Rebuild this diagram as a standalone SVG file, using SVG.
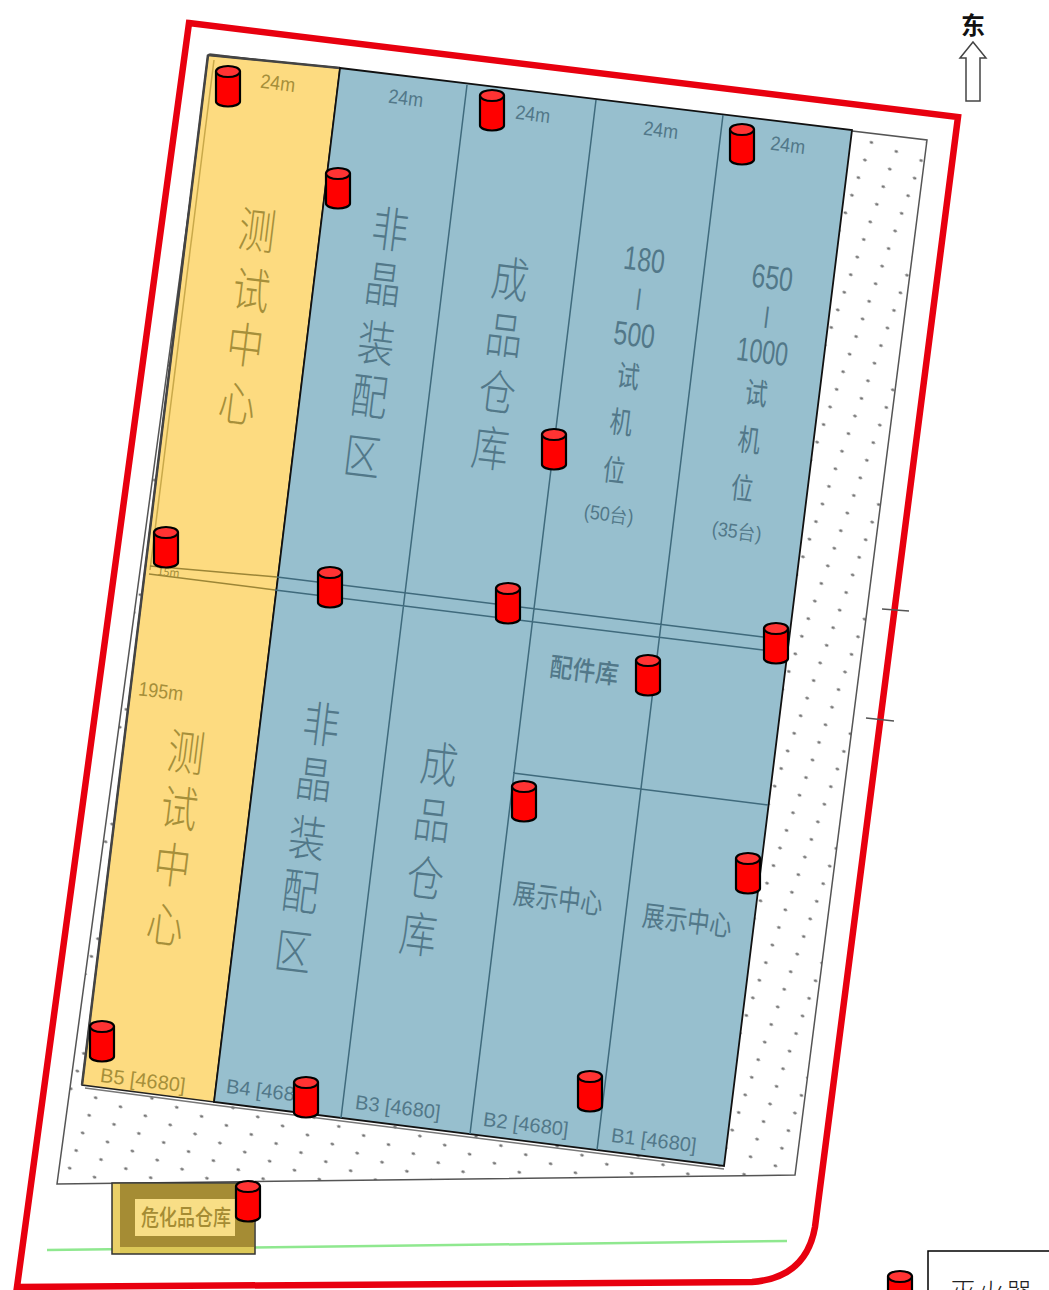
<svg xmlns="http://www.w3.org/2000/svg" width="1049" height="1290" viewBox="0 0 1049 1290">
<style>
text{font-family:"Noto Sans CJK SC","Liberation Sans",sans-serif;text-anchor:middle}
.y{fill:#a68f3a}.b{fill:#527889}
.big{font-size:42px;font-weight:300}
.mid{font-size:30px;font-weight:400}
.num{font-size:29px;font-family:"Liberation Sans",sans-serif;font-weight:400}
.sm{font-size:20px;font-family:"Liberation Sans",sans-serif}
.lab{font-size:25px}
.in{fill:none;stroke:#3f6a7c;stroke-width:1.5}
.iny{fill:none;stroke:#9c8636;stroke-width:1.5}
</style>
<defs>
<pattern id="dots" patternUnits="userSpaceOnUse" width="100" height="100" patternTransform="matrix(.2485 .0906 -.065 .176 80 1102)">
<circle cx="50" cy="50" r="7" fill="#707070"/>
</pattern>
<g id="cyl">
<path d="M-12 7.500V36.500C-12 39.500 -6 41.500 0 41.500S12 39.500 12 36.500V7.500Z" fill="#f00" stroke="#000" stroke-width="2.200"/>
<ellipse cx="0" cy="6.500" rx="12" ry="5.500" fill="#ff3333" stroke="#000" stroke-width="2.200"/>
</g>
</defs>
<rect width="1049" height="1290" fill="#fff"/>
<g id="boundary"><path d="M189 23L958 117L815 1227Q806 1278 752 1282L17 1287Z" fill="#fff" stroke="#e8000f" stroke-width="6.500" stroke-linejoin="miter"/></g>
<g id="site"><path d="M210 54L927 140L795 1175L57 1184Z" fill="#fff"/><path d="M210 54L927 140L795 1175L57 1184Z" fill="url(#dots)" stroke="#555" stroke-width="1.500"/></g>
<g id="green-line"><path d="M47 1250L787 1241" stroke="#8fe88f" stroke-width="2.500" fill="none"/></g>
<g id="ticks"><path d="M882 609L909 611M866 718L894 721" stroke="#555" stroke-width="1.500" fill="none"/></g>
<g id="zone-test"><path d="M85 1088L214 1105L724 1169" fill="none" stroke="#777" stroke-width="1.500"/><path d="M208 55L340 68L214 1102L82 1085Z" fill="#fddb80" stroke="#222" stroke-width="1.500"/><path d="M208 55L340 68M208 55L82 1085" fill="none" stroke="#444" stroke-width="2.500"/><path d="M214 60L150 570" stroke="#c9a94a" stroke-width="1.500" fill="none"/></g>
<g id="zone-main"><path d="M340 68L852 130L724 1166L214 1102Z" fill="#97bfce" stroke="#111" stroke-width="1.800"/></g>
<g id="connectors">
<path class="in" d="M467 85L341 1118M596 100L470 1134M723 115L597 1150M513 773L768 805M277 577L763 637M275 590L763 650"/>
<path class="iny" d="M150 566L277 577M149 574L275 590"/>
</g>
<g id="wh"><rect x="112" y="1183" width="143" height="71" fill="#dcc858" stroke="#333" stroke-width="1.500"/><rect x="113" y="1184" width="7" height="69" fill="#e9cf68"/><rect x="120" y="1184" width="134" height="63" fill="#a58c34"/><rect x="135" y="1199" width="100" height="37" fill="#f8de86"/><text transform="translate(186 1225) scale(1 1.2)" font-size="18" font-weight="500" fill="#a58c34">危化品仓库</text></g>
<g id="text-yellow" class="y">
<text class="big" transform="translate(255 248) rotate(7) scale(.88 1.15)">测</text>
<text class="big" transform="translate(249 308) rotate(7) scale(.88 1.15)">试</text>
<text class="big" transform="translate(243 363) rotate(7) scale(.88 1.15)">中</text>
<text class="big" transform="translate(235 421) rotate(7) scale(.88 1.15)">心</text>
<text class="big" transform="translate(184 770) rotate(7) scale(.88 1.15)">测</text>
<text class="big" transform="translate(177 826) rotate(7) scale(.88 1.15)">试</text>
<text class="big" transform="translate(170 883) rotate(7) scale(.88 1.15)">中</text>
<text class="big" transform="translate(163 942) rotate(7) scale(.88 1.15)">心</text>
<text class="sm" transform="translate(277 90) rotate(7) scale(.9 1)">24m</text>
<text class="sm" transform="translate(160 698) rotate(7) scale(.9 1)">195m</text>
<text class="sm" transform="translate(142 1087) rotate(7)">B5 [4680]</text>
<text transform="translate(168 576) rotate(7)" font-size="11">15m</text>
</g>
<g id="text-blue" class="b">
<text class="big" transform="translate(388 247) rotate(7) scale(.88 1.15)">非</text>
<text class="big" transform="translate(381 302) rotate(7) scale(.88 1.15)">晶</text>
<text class="big" transform="translate(374 361) rotate(7) scale(.88 1.15)">装</text>
<text class="big" transform="translate(367 414) rotate(7) scale(.88 1.15)">配</text>
<text class="big" transform="translate(360 474) rotate(7) scale(.88 1.15)">区</text>
<text class="big" transform="translate(508 297) rotate(7) scale(.88 1.15)">成</text>
<text class="big" transform="translate(502 353) rotate(7) scale(.88 1.15)">品</text>
<text class="big" transform="translate(495 410) rotate(7) scale(.88 1.15)">仓</text>
<text class="big" transform="translate(488 466) rotate(7) scale(.88 1.15)">库</text>
<text class="big" transform="translate(319 742) rotate(7) scale(.88 1.15)">非</text>
<text class="big" transform="translate(312 797) rotate(7) scale(.88 1.15)">晶</text>
<text class="big" transform="translate(305 856) rotate(7) scale(.88 1.15)">装</text>
<text class="big" transform="translate(298 909) rotate(7) scale(.88 1.15)">配</text>
<text class="big" transform="translate(291 969) rotate(7) scale(.88 1.15)">区</text>
<text class="big" transform="translate(437 782) rotate(7) scale(.88 1.15)">成</text>
<text class="big" transform="translate(430 838) rotate(7) scale(.88 1.15)">品</text>
<text class="big" transform="translate(423 896) rotate(7) scale(.88 1.15)">仓</text>
<text class="big" transform="translate(416 952) rotate(7) scale(.88 1.15)">库</text>
<text class="num" transform="translate(643 271) rotate(7) scale(.85 1.15)">180</text>
<text class="num" transform="translate(638 305) rotate(7)" font-size="23" style="font-size:23px">|</text>
<text class="num" transform="translate(633 346) rotate(7) scale(.85 1.15)">500</text>
<text class="mid" transform="translate(627 387) rotate(7) scale(.75 1)">试</text>
<text class="mid" transform="translate(620 433) rotate(7) scale(.75 1)">机</text>
<text class="mid" transform="translate(613 481) rotate(7) scale(.75 1)">位</text>
<text class="sm" transform="translate(608 521) rotate(7) scale(.9 1)">(50台)</text>
<text class="num" transform="translate(771 289) rotate(7) scale(.85 1.15)">650</text>
<text class="num" transform="translate(766 323) rotate(7)" style="font-size:23px">|</text>
<text class="num" transform="translate(761 363) rotate(7) scale(.8 1.15)">1000</text>
<text class="mid" transform="translate(755 404) rotate(7) scale(.75 1)">试</text>
<text class="mid" transform="translate(748 451) rotate(7) scale(.75 1)">机</text>
<text class="mid" transform="translate(741 499) rotate(7) scale(.75 1)">位</text>
<text class="sm" transform="translate(736 538) rotate(7) scale(.9 1)">(35台)</text>
<text font-weight="500" transform="translate(583 680) rotate(7) scale(1 1.15)" font-size="23">配件库</text>
<text class="lab" transform="translate(557 909) rotate(7) scale(.9 1.15)">展示中心</text>
<text class="lab" transform="translate(686 931) rotate(7) scale(.9 1.15)">展示中心</text>
<text class="sm" transform="translate(405 105) rotate(7) scale(.9 1)">24m</text>
<text class="sm" transform="translate(532 121) rotate(7) scale(.9 1)">24m</text>
<text class="sm" transform="translate(660 137) rotate(7) scale(.9 1)">24m</text>
<text class="sm" transform="translate(787 152) rotate(7) scale(.9 1)">24m</text>
<text class="sm" transform="translate(268 1098) rotate(7)">B4 [4680]</text>
<text class="sm" transform="translate(397 1114) rotate(7)">B3 [4680]</text>
<text class="sm" transform="translate(525 1131) rotate(7)">B2 [4680]</text>
<text class="sm" transform="translate(653 1147) rotate(7)">B1 [4680]</text>
</g>
<g id="ext-1"><use href="#cyl" x="228" y="65"/></g>
<g id="ext-2"><use href="#cyl" x="338" y="167"/></g>
<g id="ext-3"><use href="#cyl" x="492" y="89"/></g>
<g id="ext-4"><use href="#cyl" x="742" y="123"/></g>
<g id="ext-5"><use href="#cyl" x="554" y="428"/></g>
<g id="ext-6"><use href="#cyl" x="166" y="526"/></g>
<g id="ext-7"><use href="#cyl" x="330" y="566"/></g>
<g id="ext-8"><use href="#cyl" x="508" y="582"/></g>
<g id="ext-9"><use href="#cyl" x="776" y="622"/></g>
<g id="ext-10"><use href="#cyl" x="648" y="654"/></g>
<g id="ext-11"><use href="#cyl" x="524" y="780"/></g>
<g id="ext-12"><use href="#cyl" x="748" y="852"/></g>
<g id="ext-13"><use href="#cyl" x="102" y="1020"/></g>
<g id="ext-14"><use href="#cyl" x="306" y="1076"/></g>
<g id="ext-15"><use href="#cyl" x="590" y="1070"/></g>
<g id="ext-16"><use href="#cyl" x="248" y="1180"/></g>
<g id="north"><path d="M973 42L986 58H980V101H966V58H960Z" fill="#fff" stroke="#444" stroke-width="1.500"/><text x="973" y="34" font-size="24" font-weight="700" fill="#111">东</text></g>
<g id="legend"><use href="#cyl" x="900" y="1270"/><rect x="928" y="1251" width="140" height="60" fill="#fff" stroke="#000" stroke-width="1.500"/><text x="992" y="1302" font-size="26" letter-spacing="2" font-weight="300" fill="#222">灭火器</text></g>
</svg>
